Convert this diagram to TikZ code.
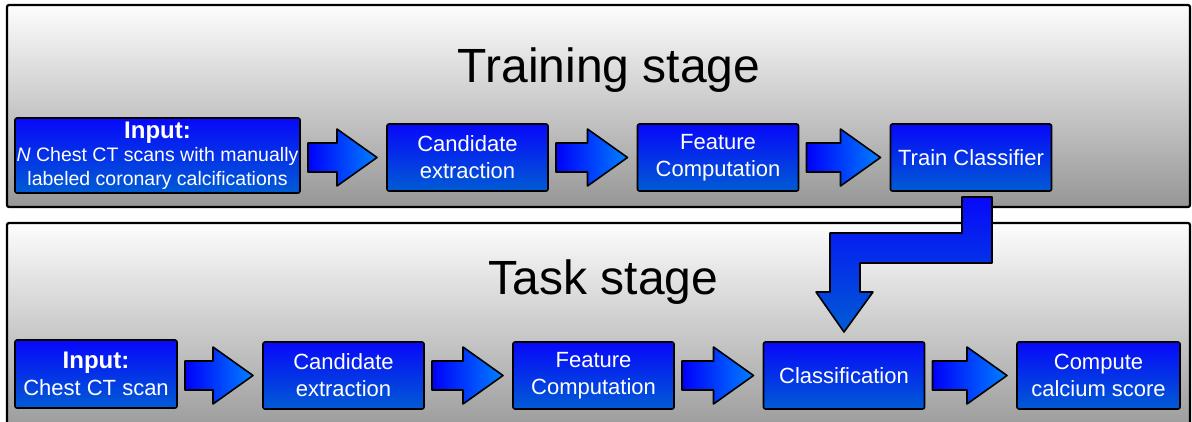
\documentclass[tikz,border=0pt]{standalone}
\usepackage{fontspec}
\setmainfont{Liberation Sans}
\usetikzlibrary{calc}
\definecolor{bxtop}{RGB}{8,8,250}
\definecolor{bxbot}{RGB}{0,92,212}
\definecolor{arleft}{RGB}{0,0,250}
\definecolor{arright}{RGB}{0,128,255}
\definecolor{panbot}{RGB}{150,150,150}
\definecolor{pantop}{RGB}{253,253,253}
\tikzset{
  panel/.style={draw=black, line width=2.2pt, rounded corners=2pt, top color=pantop, bottom color=panbot},
  box/.style={draw=black, line width=1.6pt, rounded corners=2pt, top color=bxtop, bottom color=bxbot,
    text=white, align=center, inner sep=0pt, outer sep=0pt, minimum width=161pt, minimum height=67pt,
    font=\fontsize{22}{27}\selectfont},
  barrowstyle/.style={draw=black, line width=1.6pt, line join=round, left color=arleft, right color=arright},
  bentstyle/.style={draw=black, line width=1.6pt, line join=round, top color=bxtop, bottom color=bxbot},
  title/.style={font=\fontsize{48}{50}\selectfont, text=black, anchor=base, inner sep=0pt}
}
\newcommand\blockarr[2]{%
  \draw[barrowstyle] ($(#1.east |- #2.west)+(8,-14.5)$) -- ($(#2.west)+(-50,-14.5)$) -- ($(#2.west)+(-50,-28.5)$)
    -- ($(#2.west)+(-10,0)$) -- ($(#2.west)+(-50,28.5)$) -- ($(#2.west)+(-50,14.5)$)
    -- ($(#1.east |- #2.west)+(8,14.5)$) -- cycle;}
\begin{document}
\begin{tikzpicture}[x=1pt,y=-1pt]
\useasboundingbox (0,0) rectangle (1192,421);
% panels
\path[panel] (7,5) rectangle (1190,207);
\path[panel] (7,223) rectangle (1190,440);
% titles
\node[title] (t1) at (609,82) {Training stage};
\node[title] (t2) at (603.5,294) {Task stage};
% training row
\node[box, minimum width=285pt, minimum height=75pt, font=\fontsize{19.5}{23.5}\selectfont] (tin) at (157.5,155.5)
  {{\fontsize{24}{25}\selectfont\bfseries Input:}\\\textit{N} Chest CT scans with manually\\labeled coronary calcifications};
\node[box] (tce) at (467.5,157.5) {Candidate\\extraction};
\node[box] (tfc) at (718,157.5) {Feature\\Computation};
\node[box] (ttc) at (971,157.5) {Train Classifier};
% task row
\node[box, minimum width=162pt, minimum height=68pt] (kin) at (96,374)
  {{\fontsize{24}{27}\selectfont\bfseries Input:}\\Chest CT scan};
\node[box] (kce) at (343.5,375.5) {Candidate\\extraction};
\node[box] (kfc) at (593.5,375.5) {Feature\\Computation};
\node[box] (kcl) at (844,375.5) {Classification};
\node[box, minimum width=163pt] (kcs) at (1098.5,375.5) {Compute\\calcium score};
% block arrows
\blockarr{tin}{tce}
\blockarr{tce}{tfc}
\blockarr{tfc}{ttc}
\blockarr{kin}{kce}
\blockarr{kce}{kfc}
\blockarr{kfc}{kcl}
\blockarr{kcl}{kcs}
% bent arrow
\draw[bentstyle] ($(ttc.south)+(-9,6)$) -- ($(ttc.south)+(21,6)$) -- ($(ttc.south)+(21,72)$)
  -- ($(kcl.north)+(16,-79)$) -- ($(kcl.north)+(16,-50)$) -- ($(kcl.north)+(29,-50)$)
  -- ($(kcl.north)+(0,-10)$) -- ($(kcl.north)+(-28,-50)$) -- ($(kcl.north)+(-14,-50)$)
  -- ($(kcl.north)+(-14,-109)$) -- ($(ttc.south)+(-9,42)$) -- cycle;
\end{tikzpicture}
\end{document}
